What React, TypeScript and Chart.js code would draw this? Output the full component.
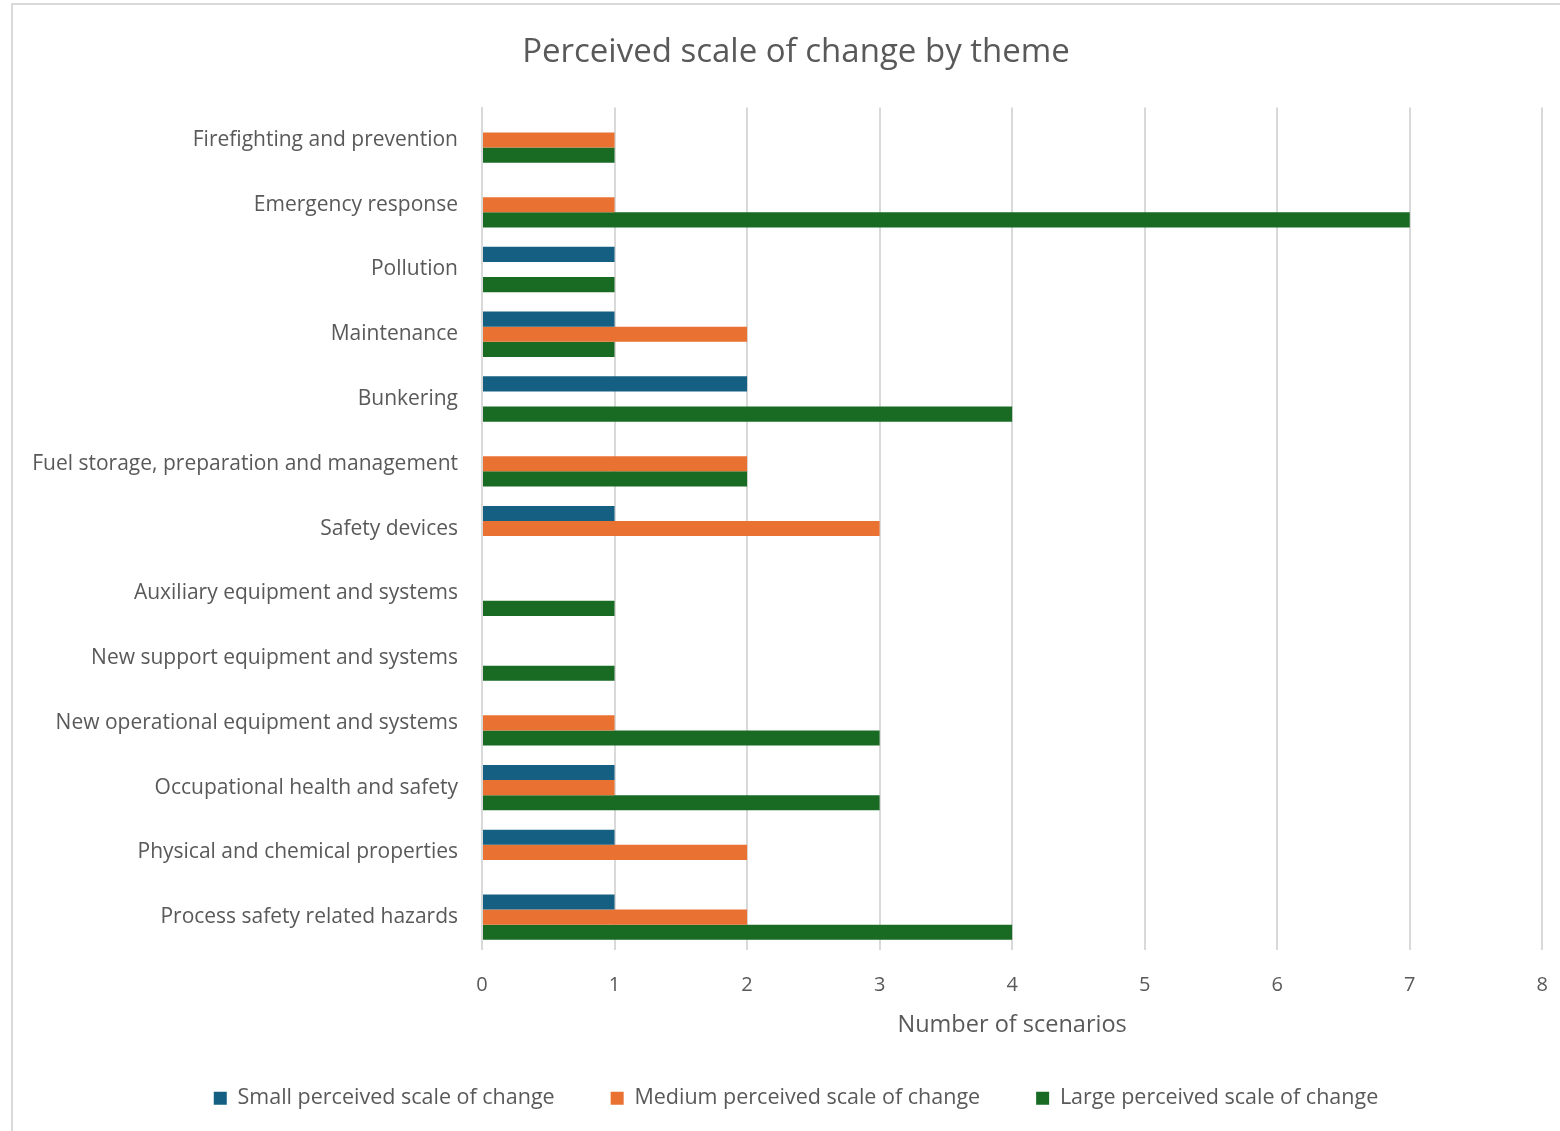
import React, { useEffect, useRef } from "react";
import { Chart, registerables } from "chart.js";

Chart.register(...registerables);

const categories = [
  "Firefighting and prevention",
  "Emergency response",
  "Pollution",
  "Maintenance",
  "Bunkering",
  "Fuel storage, preparation and management",
  "Safety devices",
  "Auxiliary equipment and systems",
  "New support equipment and systems",
  "New operational equipment and systems",
  "Occupational health and safety",
  "Physical and chemical properties",
  "Process safety related hazards",
];

const smallValues = [0, 0, 1, 1, 2, 0, 1, 0, 0, 0, 1, 1, 1];
const mediumValues = [1, 1, 0, 2, 0, 2, 3, 0, 0, 1, 1, 2, 2];
const largeValues = [1, 7, 1, 1, 4, 2, 0, 1, 1, 3, 3, 0, 4];

const seriesNames = [
  "Small perceived scale of change",
  "Medium perceived scale of change",
  "Large perceived scale of change",
];

const FONT = "'Open Sans', Lato, sans-serif";
const TEXT = "#595959";
const GRID = "#d9d9d9";

export default function App() {
  const ref = useRef<HTMLCanvasElement | null>(null);

  useEffect(() => {
    if (!ref.current) return;
    const chart = new Chart(ref.current, {
      type: "bar",
      data: {
        labels: categories,
        datasets: [
          { label: seriesNames[0], data: smallValues, backgroundColor: "#156082" },
          { label: seriesNames[1], data: mediumValues, backgroundColor: "#e97132" },
          { label: seriesNames[2], data: largeValues, backgroundColor: "#196b24" },
        ],
      },
      options: {
        indexAxis: "y",
        animation: false,
        responsive: false,
        maintainAspectRatio: false,
        datasets: {
          bar: { categoryPercentage: 0.7, barPercentage: 1.0 },
        },
        layout: { padding: { left: 22, right: -10, top: 0, bottom: 12 } },
        plugins: {
          title: {
            display: true,
            text: "Perceived scale of change by theme",
            color: TEXT,
            font: { family: FONT, size: 33, weight: "normal" },
            padding: { top: 33, bottom: 35 },
          },
          legend: {
            position: "bottom",
            labels: {
              color: TEXT,
              font: { family: FONT, size: 21.5 },
              boxWidth: 13,
              boxHeight: 13,
              padding: 56,
            },
          },
          tooltip: { enabled: false },
        },
        scales: {
          x: {
            min: 0,
            max: 8,
            ticks: {
              stepSize: 1,
              color: TEXT,
              font: { family: FONT, size: 20 },
              padding: 12,
            },
            grid: { color: GRID, lineWidth: 2, drawTicks: true, tickLength: 12, tickColor: "rgba(0,0,0,0)" },
            border: { display: false },
            title: {
              display: true,
              text: "Number of scenarios",
              color: TEXT,
              font: { family: FONT, size: 23.5 },
              padding: { top: 0, bottom: -8 },
            },
            afterFit: (s: any) => {
              s.height = 82;
            },
          },
          y: {
            ticks: {
              color: TEXT,
              font: { family: FONT, size: 21 },
              padding: 24,
            },
            grid: { display: false, drawTicks: false },
            border: { display: true, color: GRID, width: 2 },
            afterFit: (s: any) => {
              s.width = 460;
            },
          },
        },
      },
    });
    return () => chart.destroy();
  }, []);

  return (
    <div style={{ position: "absolute", left: 0, top: 0, width: 1560, height: 1131, overflow: "hidden", background: "#fff" }}>
      <div
        style={{
          position: "absolute",
          left: 11,
          top: 3,
          width: 1600,
          height: 1200,
          borderTop: "2px solid #d9d9d9",
          borderLeft: "2px solid #d9d9d9",
        }}
      />
      <canvas ref={ref} width={1560} height={1131} style={{ position: "absolute", left: 0, top: 0, display: "block" }} />
    </div>
  );
}
